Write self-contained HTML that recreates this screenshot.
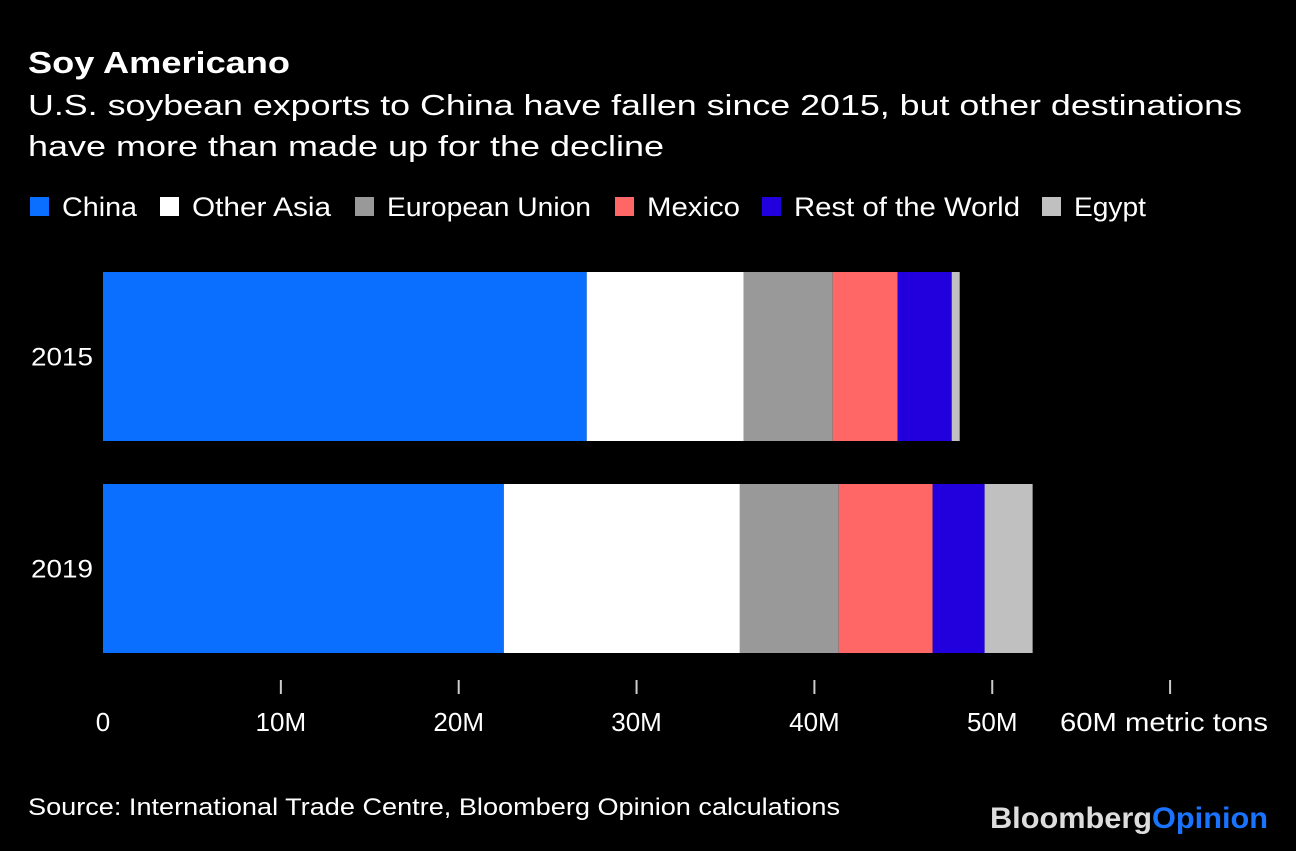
<!DOCTYPE html>
<html><head><meta charset="utf-8"><style>
html,body{margin:0;padding:0;background:#000;}
body{width:1296px;height:846px;overflow:hidden;font-family:"Liberation Sans",Arial,sans-serif;color:#fff;}
</style></head><body>
<svg width="1296" height="846" xmlns="http://www.w3.org/2000/svg" style="font-family:'Liberation Sans',Arial,sans-serif">
<rect width="1296" height="846" fill="#000"/>
<text x="28" y="73" font-size="31" font-weight="bold" fill="#fff" textLength="262" lengthAdjust="spacingAndGlyphs">Soy Americano</text>
<text x="28" y="115" font-size="29" fill="#fff" textLength="1214" lengthAdjust="spacingAndGlyphs">U.S. soybean exports to China have fallen since 2015, but other destinations</text>
<text x="28" y="156" font-size="29" fill="#fff" textLength="636" lengthAdjust="spacingAndGlyphs">have more than made up for the decline</text>
<g id="legend"></g>
<g id="bars"></g>
<g id="axis"></g>
<text x="28" y="815" font-size="24" fill="#fff" textLength="812" lengthAdjust="spacingAndGlyphs">Source: International Trade Centre, Bloomberg Opinion calculations</text>
<text x="990" y="828" font-size="30" font-weight="bold" textLength="278" lengthAdjust="spacingAndGlyphs"><tspan fill="#ddd">Bloomberg</tspan><tspan fill="#1a73ff">Opinion</tspan></text>
</svg>
<script>
const years = ["2015","2019"];
const seriesNames = ["China","Other Asia","European Union","Mexico","Rest of the World","Egypt"];
const china = [27.2, 22.54];
const otherAsia = [8.83, 13.27];
const eu = [5.0, 5.56];
const mexico = [3.65, 5.28];
const rest = [3.04, 2.92];
const egypt = [0.45, 2.7];
const tickValues = [0,10,20,30,40,50,60];
const tickLabels = ["0","10M","20M","30M","40M","50M","60M metric tons"];

const colors = ["#0a6fff","#ffffff","#999999","#ff6666","#2200dd","#c0c0c0"];
const series = [china, otherAsia, eu, mexico, rest, egypt];
const NS = "http://www.w3.org/2000/svg";
const x0 = 103, pxPer = 17.785;
function xs(v){ return x0 + v*pxPer; }
const bandTop = [272, 484], barH = 169;
function mk(tag, attrs, parent){ const e=document.createElementNS(NS,tag); for(const k in attrs) e.setAttribute(k,attrs[k]); parent.appendChild(e); return e; }

const bars = document.getElementById('bars');
years.forEach((y,i)=>{
  let acc = 0;
  series.forEach((s,j)=>{
    const r = mk('rect',{x:xs(acc),y:bandTop[i],width:xs(acc+s[i])-xs(acc),height:barH,fill:colors[j]},bars);
    
    
    acc += s[i];
  });
  const t = mk('text',{x:93,y:bandTop[i]+barH/2+9,'font-size':25,fill:'#fff','text-anchor':'end',textLength:62,lengthAdjust:'spacingAndGlyphs'},bars);
  t.textContent = y;
  
  
});

const axis = document.getElementById('axis');
tickValues.forEach((v,i)=>{
  if(v>0){
    const l = mk('line',{x1:xs(v),x2:xs(v),y1:680,y2:694,stroke:'#ccc','stroke-width':2},axis);
    
    
  }
  const last = i===tickValues.length-1;
  const attrs = {x:last?1060:xs(v),y:731,'font-size':26,fill:'#fff','text-anchor':last?'start':'middle'};
  if(last){ attrs.textLength=208; attrs.lengthAdjust='spacingAndGlyphs'; }
  const t = mk('text',attrs,axis);
  t.textContent = tickLabels[i];
  
  
});

const legend = document.getElementById('legend');
const legX = [30,160,355,615,762,1042];
const legW = [75,139,204,93,226,72];
seriesNames.forEach((n,j)=>{
  const g = mk('g',{},legend);
  
  
  mk('rect',{x:legX[j],y:197,width:19,height:19,fill:colors[j]},g);
  const t = mk('text',{x:legX[j]+32,y:216,'font-size':27,fill:'#fff',textLength:legW[j],lengthAdjust:'spacingAndGlyphs'},g);
  t.textContent = n;
});
</script>
</body></html>
